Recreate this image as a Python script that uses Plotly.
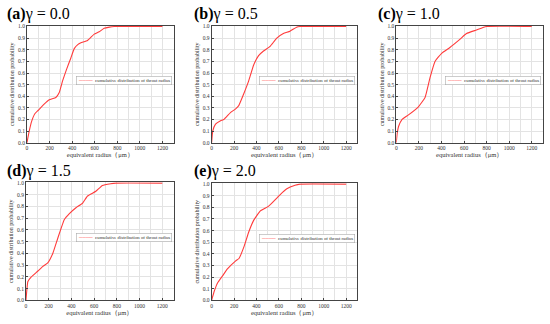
import plotly.graph_objects as go

# ---- data ----
xa = [0, 20, 40, 70, 100, 150, 198, 256, 285, 315, 350, 389, 419, 450, 478, 537, 596, 640, 684, 730, 773, 1200]
ya = [0, 0.10, 0.18, 0.25, 0.28, 0.33, 0.37, 0.39, 0.43, 0.53, 0.63, 0.73, 0.81, 0.845, 0.86, 0.88, 0.935, 0.955, 0.985, 0.995, 1.0, 1.0]

xb = [0, 10, 35, 80, 109, 168, 212, 242, 286, 330, 375, 419, 463, 522, 581, 640, 699, 758, 788, 1200]
yb = [0, 0.10, 0.16, 0.19, 0.20, 0.26, 0.29, 0.32, 0.42, 0.53, 0.67, 0.75, 0.79, 0.83, 0.90, 0.94, 0.96, 0.995, 1.0, 1.0]

xc = [0, 8, 20, 50, 108, 196, 255, 299, 343, 402, 475, 563, 622, 710, 798, 1200]
yc = [0, 0.08, 0.14, 0.20, 0.24, 0.31, 0.39, 0.56, 0.70, 0.77, 0.82, 0.89, 0.94, 0.97, 1.0, 1.0]

xd = [0, 7, 17, 47, 105, 149, 192, 236, 280, 338, 382, 440, 499, 542, 615, 673, 746, 790, 1200]
yd = [0, 0.08, 0.16, 0.20, 0.25, 0.29, 0.32, 0.40, 0.53, 0.69, 0.74, 0.79, 0.83, 0.89, 0.93, 0.98, 0.995, 1.0, 1.0]

xe = [0, 24, 53, 97, 141, 215, 244, 288, 332, 376, 435, 509, 582, 612, 671, 744, 788, 1200]
ye = [0, 0.08, 0.15, 0.21, 0.27, 0.34, 0.36, 0.46, 0.59, 0.69, 0.77, 0.81, 0.88, 0.91, 0.96, 0.99, 1.0, 1.0]

panel_labels = ["(a)", "(b)", "(c)", "(d)", "(e)"]
gammas = ["γ = 0.0", "γ = 0.5", "γ = 1.0", "γ = 1.5", "γ = 2.0"]
x_ticks = [0, 200, 400, 600, 800, 1000, 1200]
y_ticks = [0.0, 0.1, 0.2, 0.3, 0.4, 0.5, 0.6, 0.7, 0.8, 0.9, 1.0]
series_name = "cumulative distribution of throat radius"
x_title = "equivalent radius（μm）"
y_title = "cumulative distribution probability"

W, H = 550, 324
# plot boxes in pixels: (left, right, top, bottom)
boxes = [(26, 173, 24, 143), (211, 357, 24, 143), (396, 543, 24, 143),
         (25, 173, 183, 303), (211, 357, 184, 303)]
title_pos = [(4, 12), (191, 12), (376, 12), (4, 172), (191, 172)]

data = [(xa, ya), (xb, yb), (xc, yc), (xd, yd), (xe, ye)]
FONT = "Liberation Serif, Times New Roman, serif"

fig = go.Figure()
layout = dict(width=W, height=H, margin=dict(l=0, r=0, t=0, b=0),
              paper_bgcolor="white", plot_bgcolor="white", showlegend=False,
              font=dict(family=FONT, color="#333"))
annotations = []
for i, ((x, y), (l, r, t, b)) in enumerate(zip(data, boxes)):
    k = "" if i == 0 else str(i + 1)
    fig.add_trace(go.Scatter(x=x, y=y, mode="lines", name=series_name,
                             line=dict(color="#ff3b3b", width=1.1, shape="spline", smoothing=0.4),
                             xaxis="x" + k, yaxis="y" + k))
    common = dict(showline=True, linecolor="#444", linewidth=0.8, mirror=True,
                  showgrid=True, gridcolor="#e3e3e3", gridwidth=0.6,
                  ticks="inside", ticklen=2, tickcolor="#444",
                  tickfont=dict(size=5.5, family=FONT, color="#333"), zeroline=False)
    layout["xaxis" + k] = dict(domain=[l / W, r / W], anchor="y" + k, range=[0, 1300],
                               tickvals=x_ticks, minor=dict(dtick=100, showgrid=True, gridcolor="#e3e3e3", gridwidth=0.6),
                               title=dict(text=x_title, font=dict(size=6.5, family=FONT), standoff=2), **common)
    layout["yaxis" + k] = dict(domain=[1 - b / H, 1 - t / H], anchor="x" + k, range=[0, 1.008],
                               tickvals=y_ticks, tickformat=".1f",
                               title=dict(text=y_title, font=dict(size=6, family=FONT), standoff=2), **common)
    tx, ty = title_pos[i]
    annotations.append(dict(x=tx / W, y=1 - ty / H, xref="paper", yref="paper",
                            xanchor="left", yanchor="middle", showarrow=False,
                            text="<b>" + panel_labels[i] + "</b>" + gammas[i],
                            font=dict(size=16, family=FONT, color="black")))
    # legend box
    ly = t + 0.47 * (b - t)
    annotations.append(dict(x=(r - 2) / W, y=1 - ly / H, xref="paper", yref="paper",
                            xanchor="right", yanchor="middle", showarrow=False,
                            text="<span style='color:#ff3b3b'>────</span>  " + series_name,
                            font=dict(size=4.8, family=FONT, color="#333"),
                            bgcolor="white", bordercolor="#aaa", borderwidth=0.6, borderpad=1.5))

layout["annotations"] = annotations
fig.update_layout(**layout)
fig.write_html("out.html", config={"displayModeBar": False},
               post_script="document.body.style.margin='0';")
